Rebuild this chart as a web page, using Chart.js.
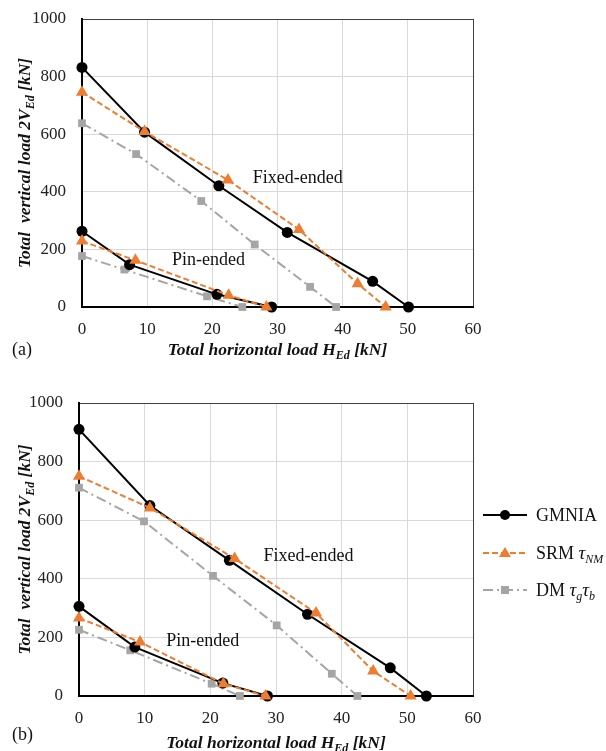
<!DOCTYPE html>
<html>
<head>
<meta charset="utf-8">
<script src="https://cdn.jsdelivr.net/npm/chart.js@4.4.1/dist/chart.umd.min.js"></script>
<style>
  body { margin: 0; background: #fff; }
  canvas { display: block; }
</style>
</head>
<body>
<canvas id="chartA" width="606" height="375"></canvas>
<canvas id="chartB" width="606" height="376"></canvas>
<script>
// ---- data, panel (a) ----
const aFixGmniaH = [0, 9.6, 21.0, 31.5, 44.6, 50.1];
const aFixGmniaV = [832, 607, 421, 259, 89, 0];
const aFixSrmH = [0, 9.6, 22.4, 33.3, 42.3, 46.6];
const aFixSrmV = [746, 609, 441, 269, 81, 0];
const aFixDmH = [0, 8.3, 18.3, 26.5, 35.0, 39.0];
const aFixDmV = [638, 531, 368, 217, 70, 0];
const aPinGmniaH = [0, 7.3, 20.7, 29.1];
const aPinGmniaV = [263, 147, 44, 0];
const aPinSrmH = [0, 8.2, 22.5, 28.3];
const aPinSrmV = [229, 162, 41, 0];
const aPinDmH = [0, 6.5, 19.2, 24.6];
const aPinDmV = [177, 130, 37, 0];

// ---- panel (b) ----
const bFixGmniaH = [0, 10.8, 22.9, 34.8, 47.4, 52.9];
const bFixGmniaV = [910, 650, 463, 279, 96, 0];
const bFixSrmH = [0, 10.8, 23.7, 36.1, 44.8, 50.5];
const bFixSrmV = [750, 642, 469, 283, 85, 0];
const bFixDmH = [0, 9.9, 20.4, 30.1, 38.5, 42.4];
const bFixDmV = [711, 596, 410, 241, 76, 0];
const bPinGmniaH = [0, 8.5, 21.9, 28.7];
const bPinGmniaV = [306, 167, 44, 0];
const bPinSrmH = [0, 9.3, 22.0, 28.4];
const bPinSrmV = [266, 184, 42, 0];
const bPinDmH = [0, 7.8, 20.2, 24.5];
const bPinDmV = [226, 156, 42, 0];

const xTicks = [0, 10, 20, 30, 40, 50, 60];
const yTicks = [0, 200, 400, 600, 800, 1000];

const ORANGE = '#ED7D31';
const GREY = '#A5A5A5';
const SERIF = '"Liberation Serif", "Times New Roman", serif';

function pts(h, v) {
  return h.map((x, i) => ({ x: x, y: v[i] }));
}

function srm(h, v) {
  return { data: pts(h, v), borderColor: ORANGE, backgroundColor: ORANGE, borderWidth: 2,
    borderDash: [6, 3], pointStyle: 'triangle', pointRadius: 7, pointBorderWidth: 0 };
}
function gmnia(h, v) {
  return { data: pts(h, v), borderColor: '#000', backgroundColor: '#000', borderWidth: 2,
    pointStyle: 'circle', pointRadius: 5.5, pointBorderWidth: 0 };
}
function dm(h, v) {
  return { data: pts(h, v), borderColor: GREY, backgroundColor: GREY, borderWidth: 2,
    borderDash: [10, 4, 2, 4], pointStyle: 'rect', pointRadius: 5.5, pointBorderWidth: 0 };
}

// draws a line of text made of parts with different fonts (for subscripts)
function richText(ctx, parts, x, y, align) {
  let total = 0;
  parts.forEach(p => { ctx.font = p[1]; total += ctx.measureText(p[0]).width; });
  let cx = align === 'center' ? x - total / 2 : x;
  ctx.textAlign = 'left';
  ctx.textBaseline = 'alphabetic';
  parts.forEach(p => {
    ctx.font = p[1];
    ctx.fillText(p[0], cx, y + (p[2] || 0));
    cx += ctx.measureText(p[0]).width;
  });
}

const titleFont = 'italic bold 17.5px ' + SERIF;
const titleSub = 'italic bold 12px ' + SERIF;
const plainFont = '18px ' + SERIF;

function panelPlugin(tag, fixPos, pinPos, titleY, tagY, legend) {
  return {
    id: 'texts' + tag,
    afterDraw(chart) {
      const ctx = chart.ctx;
      const a = chart.chartArea;
      const xs = chart.scales.x, ys = chart.scales.y;
      ctx.save();
      ctx.fillStyle = '#111';
      // curve labels
      richText(ctx, [['Fixed-ended', plainFont]], xs.getPixelForValue(fixPos[0]), ys.getPixelForValue(fixPos[1]) + 6, 'left');
      richText(ctx, [['Pin-ended', plainFont]], xs.getPixelForValue(pinPos[0]), ys.getPixelForValue(pinPos[1]) + 6, 'left');
      // x title and panel tag
      richText(ctx, [['Total horizontal load H', titleFont], ['Ed', titleSub, 4], [' [kN]', titleFont]],
        (a.left + a.right) / 2, titleY, 'center');
      richText(ctx, [[tag, plainFont]], 12, tagY, 'left');
      // y title
      ctx.translate(30, (a.top + a.bottom) / 2);
      ctx.rotate(-Math.PI / 2);
      richText(ctx, [['Total  vertical load 2V', titleFont], ['Ed', titleSub, 4], [' [kN]', titleFont]], 0, 0, 'center');
      ctx.restore();
      if (legend) drawLegend(ctx);
    }
  };
}

function drawLegend(ctx) {
  const x0 = 483, x1 = 527, tx = 536;
  const rows = [
    { y: 140, color: '#000', dash: [], mark: 'circle', label: [['GMNIA', plainFont]] },
    { y: 178, color: ORANGE, dash: [6, 3], mark: 'triangle',
      label: [['SRM ', plainFont], ['\u03C4', 'italic 19px ' + SERIF], ['NM', 'italic 12px ' + SERIF, 4]] },
    { y: 215, color: GREY, dash: [10, 4, 2, 4], mark: 'rect',
      label: [['DM ', plainFont], ['\u03C4', 'italic 19px ' + SERIF], ['g', 'italic 12px ' + SERIF, 4],
        ['\u03C4', 'italic 19px ' + SERIF], ['b', 'italic 12px ' + SERIF, 4]] }
  ];
  rows.forEach(r => {
    ctx.save();
    ctx.strokeStyle = r.color;
    ctx.fillStyle = r.color;
    ctx.lineWidth = 2;
    ctx.setLineDash(r.dash);
    ctx.beginPath();
    ctx.moveTo(x0, r.y);
    ctx.lineTo(x1, r.y);
    ctx.stroke();
    ctx.setLineDash([]);
    const mx = (x0 + x1) / 2;
    ctx.beginPath();
    if (r.mark === 'circle') ctx.arc(mx, r.y, 5, 0, Math.PI * 2);
    else if (r.mark === 'triangle') { ctx.moveTo(mx, r.y - 6); ctx.lineTo(mx + 6, r.y + 4); ctx.lineTo(mx - 6, r.y + 4); ctx.closePath(); }
    else ctx.rect(mx - 4, r.y - 4, 8, 8);
    ctx.fill();
    ctx.fillStyle = '#111';
    richText(ctx, r.label, tx, r.y + 6, 'left');
    ctx.restore();
  });
}

function gridColor(c) {
  return c.tick && (c.tick.value === 60 || c.tick.value === 1000) ? '#404040' : '#d9d9d9';
}

function makeChart(id, sets, pad, xHeight, yWidth, plugin) {
  return new Chart(document.getElementById(id), {
    type: 'scatter',
    data: { datasets: sets.map(s => Object.assign({ showLine: true, fill: false, clip: false, tension: 0 }, s)) },
    options: {
      responsive: false,
      animation: false,
      devicePixelRatio: 1,
      layout: { padding: pad },
      plugins: { legend: { display: false }, tooltip: { enabled: false } },
      scales: {
        x: {
          type: 'linear', min: xTicks[0], max: xTicks[xTicks.length - 1],
          afterBuildTicks: s => { s.ticks = xTicks.map(v => ({ value: v })); },
          afterFit: s => { s.height = xHeight; },
          ticks: { font: { family: SERIF, size: 17 }, color: '#222', padding: 12, callback: v => String(v) },
          grid: { color: gridColor, lineWidth: 1, drawTicks: false },
          border: { color: '#000', width: 2 }
        },
        y: {
          type: 'linear', min: yTicks[0], max: yTicks[yTicks.length - 1],
          afterBuildTicks: s => { s.ticks = yTicks.map(v => ({ value: v })); },
          // fixed width; label overhang must not push the plot area down
          afterFit: s => { s.width = yWidth; s.paddingTop = 0; s.paddingBottom = 0; },
          ticks: { font: { family: SERIF, size: 17 }, color: '#222', padding: 16, callback: v => String(v) },
          grid: { color: gridColor, lineWidth: 1, drawTicks: false },
          border: { color: '#000', width: 2 }
        }
      }
    },
    plugins: [plugin]
  });
}

// panel (a)
makeChart('chartA', [
  srm(aFixSrmH, aFixSrmV), gmnia(aFixGmniaH, aFixGmniaV), dm(aFixDmH, aFixDmV),
  srm(aPinSrmH, aPinSrmV), gmnia(aPinGmniaH, aPinGmniaV), dm(aPinDmH, aPinDmV)
], { top: 19, right: 133, bottom: 0, left: 0 }, 68, 82,
  panelPlugin('(a)', [26.2, 452], [13.8, 168], 355, 355, false));

// panel (b)
makeChart('chartB', [
  srm(bFixSrmH, bFixSrmV), gmnia(bFixGmniaH, bFixGmniaV), dm(bFixDmH, bFixDmV),
  srm(bPinSrmH, bPinSrmV), gmnia(bPinGmniaH, bPinGmniaV), dm(bPinDmH, bPinDmV)
], { top: 28, right: 133, bottom: 0, left: 0 }, 55, 79,
  panelPlugin('(b)', [28.1, 480], [13.3, 192], 373, 365, true));
</script>
</body>
</html>
